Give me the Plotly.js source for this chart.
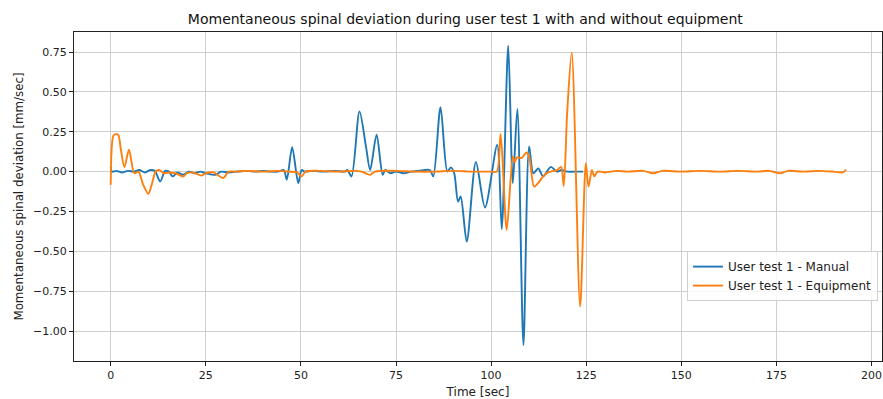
<!DOCTYPE html>
<html>
<head>
<meta charset="utf-8">
<script src="https://cdn.plot.ly/plotly-3.0.1.min.js"></script>
<style>html,body{margin:0;padding:0;background:#fff;}#chart{width:883px;height:399px;}</style>
</head>
<body>
<div id="chart"></div>
<script>
// User test 1 - Manual
const manualTime = [0,0.3,1.5,3,4.5,6,7.5,9,10.5,11.6,13.0,14.3,15.3,16.3,17.5,19,20.5,22,23.5,25,27.5,29,31,33,36,38,40,42,44,45.5,46.3,47.7,49.3,50.2,51.0,53,56,59,61.5,62.2,63.3,65.4,67.1,68.2,69.9,71.5,72.2,73.5,75,77,79,81,83.9,84.8,86.7,88.5,89.4,90.3,91.3,92.0,93.6,96.0,98.4,101.6,102.8,104.5,105.7,106.9,108.5,110.0,111.1,112.4,113.7,115.7,117.3,118.5,120,122,124.2];
const manualVal = [0.03,0.0,0.005,-0.005,0.005,0.0,0.01,-0.005,0.01,0.005,-0.062,0.005,0.0,-0.03,-0.005,-0.02,0.0,-0.01,0.0,-0.01,-0.02,0.0,-0.005,0.0,0.005,0.0,0.005,0.0,0.0,0.01,-0.05,0.154,-0.072,0.01,0.0,0.005,0.0,0.005,0.0,0.01,-0.03,0.378,0.158,0.01,0.231,-0.02,0.01,-0.01,0.0,-0.01,0.0,0.005,0.01,-0.03,0.405,0.0,0.027,-0.01,-0.188,-0.156,-0.439,0.06,-0.225,0.168,-0.36,0.79,-0.072,0.393,-1.088,0.158,-0.01,0.02,-0.03,0.03,0.0,0.01,0.0,0.0,0.0];

// User test 1 - Equipment
const equipTime = [0,0.7,1.3,2.0,2.6,3.6,4.8,6.2,7.3,8.5,9.9,10.8,11.8,12.7,14,15.5,17,19.1,20,21.5,23.9,25,27,29.6,31,33,36,40,44,47,49,50.2,51.2,55,60,64,66,68.2,69.5,75,80,85,90,95,100,101.5,102.5,104.1,105.7,106.2,106.8,108.0,109.3,110.0,111.3,112.4,113.7,115.0,117.3,118.4,119.1,120.0,121.2,123.4,124.9,125.6,126.5,127.1,128.0,130,133,136,140,142.6,145,150,155,160,165,170,173,176,178,182,186,190,192.5,193.3];
const equipVal = [-0.083,0.225,0.235,0.23,0.15,0.028,0.137,-0.01,0.0,-0.08,-0.139,-0.08,0.0,0.01,-0.01,-0.005,-0.01,-0.03,-0.01,-0.005,-0.025,-0.01,-0.005,-0.04,0.0,0.0,0.005,0.0,0.005,0.0,-0.005,-0.03,0.0,0.005,0.0,0.005,0.0,-0.02,0.0,0.005,0.0,0.0,0.005,0.0,0.0,0.0,0.237,-0.366,0.095,0.06,0.09,0.085,0.12,0.095,-0.094,-0.07,-0.03,-0.005,0.01,0.03,-0.09,0.37,0.748,-0.847,0.053,-0.094,0.01,-0.03,0.0,-0.005,0.005,0.0,0.005,-0.01,0.005,0.0,0.005,0.0,0.005,0.0,0.005,-0.01,0.005,0.0,0.005,0.0,-0.005,0.012];

const seriesNames = ["User test 1 - Manual", "User test 1 - Equipment"];
const xTicks = [0,25,50,75,100,125,150,175,200];
const yTicks = [-1.00,-0.75,-0.50,-0.25,0.00,0.25,0.50,0.75];

const font = "DejaVu Sans, sans-serif";
const traces = [
  {x: manualTime, y: manualVal, type: "scatter", mode: "lines", name: seriesNames[0],
   line: {color: "#1f77b4", width: 1.9, shape: "spline", smoothing: 0.8}},
  {x: equipTime, y: equipVal, type: "scatter", mode: "lines", name: seriesNames[1],
   line: {color: "#ff7f0e", width: 1.9, shape: "spline", smoothing: 0.8}}
];
const axisCommon = {
  showline: true, linecolor: "#222", linewidth: 1, mirror: true,
  ticks: "outside", ticklen: 4, tickcolor: "#222", tickwidth: 1,
  showgrid: true, gridcolor: "#cfcfcf", gridwidth: 1, zeroline: false,
  tickfont: {family: font, size: 11, color: "#222"}
};
const layout = {
  width: 883, height: 399,
  margin: {l: 74, r: 1, t: 32, b: 38},
  paper_bgcolor: "#fff", plot_bgcolor: "#fff",
  font: {family: font, color: "#222"},
  title: {text: "Momentaneous spinal deviation during user test 1 with and without equipment",
          font: {family: font, size: 14, color: "#111"}, x: 0.527, xanchor: "center", y: 0.953, yanchor: "middle"},
  xaxis: Object.assign({}, axisCommon, {
    range: [-9.65, 202.76], tickvals: xTicks, ticktext: xTicks.map(String),
    title: {text: "Time [sec]", font: {family: font, size: 12, color: "#222"}, standoff: 6}
  }),
  yaxis: Object.assign({}, axisCommon, {
    range: [-1.188, 0.876], tickvals: yTicks, tickformat: ".2f",
    title: {text: "Momentaneous spinal deviation [mm/sec]", font: {family: font, size: 11.8, color: "#222"}, standoff: 6}
  }),
  legend: {x: 0.995, xanchor: "right", y: 0.334, yanchor: "top",
           bgcolor: "rgba(255,255,255,0.85)", bordercolor: "#d0d0d0", borderwidth: 1,
           font: {family: font, size: 12, color: "#222"}, tracegroupgap: 0, itemwidth: 30},
  showlegend: true
};
Plotly.newPlot("chart", traces, layout, {displayModeBar: false, staticPlot: true});
</script>
</body>
</html>
